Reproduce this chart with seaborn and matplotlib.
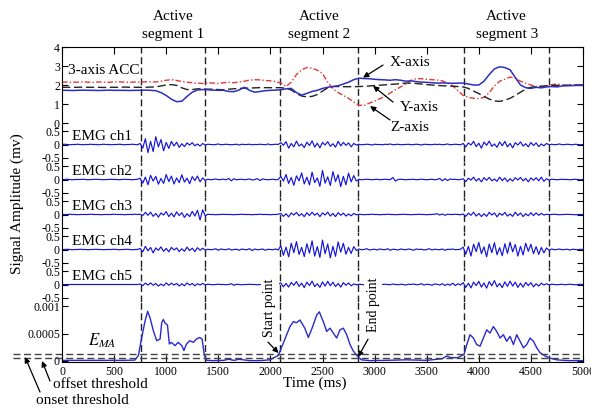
import numpy as np
import pandas as pd
import matplotlib
matplotlib.use("Agg")
import matplotlib.pyplot as plt
import matplotlib.transforms as mtransforms
import seaborn as sns

# ---------------- data ----------------
segment_bounds = [760, 1375, 2095, 2840, 3860, 4675]   # ms, dashed lines
segment_labels = ["Active\nsegment 1", "Active\nsegment 2", "Active\nsegment 3"]
acc_step = 50   # ms between ACC samples
acc_x = [1.72,1.72,1.71,1.72,1.73,1.72,1.72,1.71,1.72,1.73,1.72,1.72,1.72,1.71,1.72,1.72,1.73,1.72,1.70,
         1.60,1.45,1.25,1.12,1.15,1.40,1.62,1.74,1.76,1.75,1.73,
         1.72,1.72,1.66,1.65,1.74,1.88,1.72,1.62,1.66,1.70,
         1.72,1.73,1.75,1.80,1.82,1.60,1.47,1.56,1.66,1.72,
         1.82,1.88,1.92,1.96,2.05,2.15,2.28,2.36,2.34,2.33,
         2.30,2.28,2.27,2.25,2.28,2.25,2.20,2.22,2.18,2.15,
         2.14,2.12,2.10,2.11,2.10,2.09,2.10,2.10,2.05,2.00,
         2.00,2.20,2.55,2.85,2.96,2.92,2.80,2.40,2.00,1.86,
         1.82,1.88,1.85,1.90,1.92,1.90,1.95,1.96,1.97,1.98,
         1.98]
acc_y = [1.88,1.88,1.88,1.88,1.89,1.88,1.88,1.88,1.87,1.88,1.88,1.88,1.89,1.88,1.88,1.88,1.88,1.89,1.90,
         1.95,2.00,2.02,1.98,1.85,1.76,1.76,1.80,1.80,1.78,1.78,
         1.76,1.75,1.78,1.80,1.82,1.83,1.84,1.85,1.86,1.86,
         1.86,1.86,1.86,1.82,1.74,1.55,1.42,1.38,1.40,1.50,
         1.68,1.85,1.92,1.92,1.91,1.91,1.91,1.92,1.93,1.95,
         1.97,1.99,2.01,2.03,2.05,2.08,2.10,2.10,2.08,2.05,
         2.02,2.00,1.98,1.96,1.95,1.94,1.92,1.90,1.82,1.68,
         1.55,1.40,1.26,1.16,1.14,1.20,1.30,1.45,1.62,1.78,
         1.88,1.92,1.94,1.96,1.97,1.98,1.98,1.99,2.00,2.00,
         2.00]
acc_z = [2.15,2.16,2.14,2.15,2.17,2.15,2.14,2.16,2.15,2.14,2.16,2.17,2.15,2.14,2.16,2.15,2.17,2.16,2.16,
         2.20,2.25,2.28,2.24,2.18,2.15,2.12,2.10,2.08,2.12,2.10,
         2.08,2.12,2.14,2.12,2.16,2.20,2.26,2.28,2.27,2.24,
         2.22,2.18,2.10,1.92,2.15,2.55,2.80,2.92,2.88,2.78,
         2.60,2.15,1.80,1.60,1.45,1.30,1.10,0.94,0.92,1.05,
         1.15,1.28,1.40,1.58,1.75,1.90,2.05,2.25,2.34,2.33,
         2.30,2.28,2.26,2.22,2.10,1.95,1.70,1.45,1.35,1.30,
         1.28,1.35,1.60,1.95,2.20,2.30,2.42,2.35,2.20,2.10,
         2.00,1.92,1.90,1.95,2.02,2.05,2.00,1.98,2.00,2.00,
         2.00]

emg_step = 25   # ms between EMG samples, values in 0.01 mV
emg_ch1 = [0,1,0,-1,0,0,1,0,-1,0, 0,1,0,0,-1,0,1,0,0,-1, 0,0,1,0,-1,0,0,1,0,-1,
           4,-14,22,-31,12,-27,30,-9,19,-24,8,-15,12,-6,9,-11,3,-8,6,-2,7,-5,2,-6,4,-2,
           1,0,-1,0,2,-1,0,1,0,-1, 0,1,-2,1,0,0,1,-1,0,0, 1,0,-1,2,-1,0,1,0,
           7,-3,11,-14,4,-9,13,-6,2,-12,9,-4,14,-10,5,-13,8,-2,11,-7,3,-10,12,-5,8,-3,6,-9,4,-2,
           1,-1,0,1,0,-2,1,0,0,-1, 1,0,2,-1,0,1,-1,0,0,1, -1,0,1,0,-2,1,0,0,-1,1, 0,1,-1,0,2,-1,0,1,0,-1,
           4,-9,6,-2,12,-8,5,-14,9,-3,13,-7,2,-11,10,-5,12,-9,4,-13,7,-2,10,-6,3,-9,8,-4,6,-8,2,-5,4,-1,
           1,-1,0,2,-1,0,1,0,-1,1, 0,-1,0]
emg_ch2 = [0,0,1,0,-1,0,0,0,1,0, -1,0,0,1,0,0,-1,0,0,1, 0,0,-1,0,1,0,0,-1,0,1,
           5,-14,9,-20,16,-6,12,-18,4,-15,19,-8,13,-17,6,-12,18,-10,5,-16,11,-4,13,-9,6,-3,
           1,-1,0,2,-1,0,1,-1,4,-5,3,-1, 0,1,-1,0,2,-2,0,3,-4,2,0,-1, 0,1,-1,0,
           12,-6,19,-15,8,-22,14,-5,25,-17,9,-21,28,-12,6,-26,35,-14,10,-23,30,-8,18,-27,12,-20,24,-9,15,-6,
           1,-1,0,1,0,-1,0,1,-1,0, 1,0,-1,8,-6,0,1,0,-1,0, 0,1,-1,0,1,0,-1,0,1,-1, 0,4,-5,3,-4,2,0,1,-1,0,
           3,-8,5,-2,9,-6,4,-9,7,-3,8,-5,2,-7,9,-4,6,-8,3,-6,7,-2,8,-5,4,-9,6,-3,7,-5,9,-7,3,-2,
           1,0,-1,0,1,0,0,-1,0,1, 0,-1,0]
emg_ch3 = [0,0,0,1,0,0,-1,0,0,0, 0,1,0,0,0,-1,0,0,0,0, 1,0,0,0,-1,0,0,0,1,0,
           1,-4,8,-3,9,-7,4,-10,6,-2,11,-8,5,-9,10,-4,7,-11,3,-8,12,-6,16,-21,18,-5,
           1,0,0,-1,0,0,1,0,0,0, -1,0,0,1,0,0,0,-1,0,0, 1,0,0,0,-1,0,0,1,
           4,-7,3,-9,6,-2,8,-5,3,-8,7,-4,9,-3,5,-8,6,-2,9,-6,4,-8,7,-3,5,-6,2,-5,4,-1,
           1,0,-1,0,0,1,0,0,-1,0, 0,1,0,0,-1,0,0,1,0,0, -1,0,0,1,0,0,-1,0,0,1, 3,-2,2,-3,1,0,0,1,0,-1,
           2,-7,5,-3,9,-6,4,-8,3,-7,8,-2,6,-9,5,-3,8,-6,2,-7,9,-4,6,-8,3,-5,7,-4,6,-3,4,-2,1,0,
           0,1,0,-1,0,0,1,0,0,-1, 0,0,0]
emg_ch4 = [0,0,1,0,-1,0,0,1,0,0, -1,0,0,1,0,0,-1,0,0,0, 1,0,-1,0,0,1,0,-1,0,0,
           4,-9,12,-5,8,-13,6,-3,10,-7,4,-9,8,-2,6,-8,3,-7,9,-4,5,-8,7,-3,5,-2,
           1,-1,0,3,-3,2,0,-1,3,-2, 0,1,-3,2,0,-1,3,-4,2,-1, 0,2,-3,1,0,-1,2,-2,
           14,-22,9,-28,24,-12,30,-19,8,-27,22,-14,33,-25,11,-30,36,-16,21,-32,12,-26,29,-10,24,-18,8,-15,11,-4,
           2,-1,0,3,-2,0,1,-2,2,0, -1,3,-3,1,0,-2,2,0,-1,2, 0,-3,2,0,1,-2,0,3,-2,1, 0,-1,2,-3,1,0,2,-1,0,1,
           9,-18,12,-25,20,-8,27,-16,10,-28,21,-12,26,-20,7,-24,22,-15,28,-9,19,-25,12,-21,24,-7,20,-16,11,-19,8,-13,6,-3,
           2,-1,0,2,-1,0,1,-2,1,0, -1,1,0]
emg_ch5 = [0,0,0,0,0,0,0,0,0,0, 0,0,0,0,0,0,0,0,0,0, 0,0,0,0,0,0,0,0,0,0,
           2,-4,5,-2,6,-3,4,-6,2,-5,6,-3,5,-2,4,-6,3,-5,6,-2,4,-5,3,-2,4,-1,
           1,0,-1,0,1,0,0,-1,0,3,-3,1, 0,-1,0,0,1,0,0,-1,0,0,1,0, 0,-1,0,1,
           6,-9,4,-10,8,-3,11,-7,5,-12,9,-4,13,-8,3,-11,10,-6,12,-5,9,-8,4,-10,7,-3,6,-5,2,-1,
           1,0,-1,0,2,-1,0,1,-2,0, 1,0,-1,2,0,-1,1,0,-2,1, 0,2,-1,0,3,-2,1,0,-3,2, 1,-2,3,-4,2,-3,5,-4,3,-2,
           7,-11,5,-13,9,-4,12,-10,6,-14,11,-5,15,-9,4,-12,10,-7,13,-6,9,-11,5,-10,8,-4,7,-9,3,-6,5,-2,3,-1,
           1,0,-1,0,1,-1,0,1,0,-1, 0,1,0]
emg_channels = [emg_ch1, emg_ch2, emg_ch3, emg_ch4, emg_ch5]
emg_names = ["EMG ch1", "EMG ch2", "EMG ch3", "EMG ch4", "EMG ch5"]

# E_MA envelope: (time ms, value in 1e-4)
ema_points = [(0,0.1),(200,0.1),(400,0.1),(600,0.1),(700,0.15),(733,1.0),(765,4.3),(797,7.3),(822,9.1),
    (845,7.9),(877,5.5),(909,3.7),(941,4.0),(957,7.0),(973,7.6),(990,6.9),(1012,6.6),(1030,3.1),(1050,3.4),
    (1085,2.8),(1115,3.4),(1150,2.8),(1170,1.9),(1195,3.1),(1225,3.7),(1260,3.4),(1290,4.0),(1320,4.3),
    (1345,4.0),(1366,1.0),(1390,0.1),(1450,0.05),(1550,0.1),(1600,0.3),(1650,0.1),(1700,0.3),(1800,0.05),
    (1900,0.05),(2000,0.2),(2025,0.5),(2076,1.0),(2108,2.5),(2156,4.8),(2188,6.3),(2220,7.2),(2250,7.0),
    (2284,7.5),(2330,6.0),(2364,4.3),(2400,6.0),(2444,8.4),(2470,9.0),(2490,8.0),(2508,7.2),(2540,5.4),
    (2572,6.0),(2604,5.1),(2636,4.2),(2668,5.7),(2700,6.0),(2732,4.8),(2764,3.0),(2796,1.8),(2834,0.9),
    (2873,0.2),(2950,0.05),(3100,0.1),(3300,0.2),(3500,0.1),(3650,0.4),(3692,0.9),(3730,0.6),(3800,0.6),
    (3858,1.2),(3885,3.0),(3916,4.8),(3948,4.2),(3980,3.0),(4012,2.7),(4044,4.2),(4076,5.7),(4108,5.1),
    (4140,6.3),(4172,5.4),(4204,4.2),(4236,4.8),(4268,3.6),(4300,4.5),(4332,3.0),(4364,4.8),(4396,3.6),
    (4428,2.4),(4460,3.0),(4492,4.2),(4524,3.6),(4556,2.4),(4588,1.5),(4636,0.9),(4684,0.5),(4748,0.2),
    (4850,0.05),(5000,0.05)]
onset_threshold = 0.00012
offset_threshold = 0.00006
x_ticks = [0, 500, 1000, 1500, 2000, 2500, 3000, 3500, 4000, 4500, 5000]

# ---------------- style ----------------
sns.set_theme(style="ticks")
plt.rcParams["font.family"] = ["Liberation Serif", "DejaVu Serif"]
plt.rcParams["mathtext.fontset"] = "stix"
plt.rcParams["axes.unicode_minus"] = False
plt.rcParams["text.color"] = "black"
plt.rcParams["axes.edgecolor"] = "black"
plt.rcParams["xtick.color"] = "black"
plt.rcParams["ytick.color"] = "black"

W, H = 591, 409
fig = plt.figure(figsize=(W / 100, H / 100), dpi=100)
fig.patch.set_facecolor("white")
gs = fig.add_gridspec(7, 1, left=62 / W, right=583 / W, top=1 - 47 / H, bottom=1 - 362 / H,
                      hspace=0, height_ratios=[80, 35, 35, 35, 35, 35, 60])
axes = [fig.add_subplot(gs[i]) for i in range(7)]

EMG_BLUE = "#1414d8"
DASH = (0, (5, 2.6))

for i, ax in enumerate(axes):
    ax.patch.set_visible(False)
    ax.set_xlim(0, 5000)
    ax.set_xticks(x_ticks)
    for s in ["left", "right"]:
        ax.spines[s].set_visible(True)
        ax.spines[s].set_linewidth(0.8)
    ax.spines["top"].set_visible(i == 0)
    ax.spines["bottom"].set_visible(i == 6)
    ax.spines["top"].set_linewidth(0.8)
    ax.spines["bottom"].set_linewidth(0.8)
    ax.tick_params(axis="x", direction="in", length=5, width=0.8, top=(i == 0), bottom=(i == 6),
                   labelbottom=(i == 6), labeltop=False, labelsize=8.5, pad=3)
    ax.tick_params(axis="y", direction="in", length=4, width=0.8, left=True, right=True,
                   labelsize=8.5, pad=1.5)
    ax.set_xlabel("")
    ax.set_ylabel("")
    for b in segment_bounds:
        ax.axvline(b, color="#222222", lw=1.0, linestyle=DASH, zorder=1)

# ACC panel
ax0 = axes[0]
t_acc = np.arange(len(acc_x)) * acc_step
df_acc = pd.DataFrame({"t": t_acc, "X": acc_x, "Y": acc_y, "Z": acc_z})
sns.lineplot(data=df_acc, x="t", y="Z", ax=ax0, color="#e03a3a", lw=1.0, linestyle=(0, (4, 1.6, 1, 1.6)),
             legend=False)
sns.lineplot(data=df_acc, x="t", y="Y", ax=ax0, color="#222222", lw=1.0, linestyle=(0, (6, 2.6)),
             legend=False)
sns.lineplot(data=df_acc, x="t", y="X", ax=ax0, color="#2e2ebd", lw=1.1, legend=False)
ax0.set_ylim(-0.21, 4)
ax0.set_yticks([0, 1, 2, 3, 4])
ax0.set_yticklabels(["0", "1", "2", "3", "4"])
ax0.set_xlabel("")
ax0.set_ylabel("")
ax0.text(60, 2.75, "3-axis ACC", fontsize=11, va="center", ha="left")
blend = mtransforms.blended_transform_factory(ax0.transData, ax0.transAxes)
for k, lab in enumerate(segment_labels):
    mid = (segment_bounds[2 * k] + segment_bounds[2 * k + 1]) / 2
    ax0.text(mid, 1.07, lab, transform=blend, ha="center", va="bottom", fontsize=11,
             linespacing=1.55)

arrow_kw = dict(arrowstyle="-|>", color="black", lw=0.9, mutation_scale=8, shrinkA=0, shrinkB=0)
ax0.annotate("", xy=(2889, 2.39), xytext=(3081, 3.05), arrowprops=arrow_kw, annotation_clip=False)
ax0.annotate("", xy=(2985, 1.95), xytext=(3177, 1.10), arrowprops=arrow_kw, annotation_clip=False)
ax0.annotate("", xy=(2956, 0.89), xytext=(3148, 0.16), arrowprops=arrow_kw, annotation_clip=False)
ax0.text(3148, 3.21, "X-axis", fontsize=11, ha="left", va="center")
ax0.text(3244, 0.79, "Y-axis", fontsize=11, ha="left", va="center")
ax0.text(3148, -0.26, "Z-axis", fontsize=11, ha="left", va="center")

# EMG panels
for k in range(5):
    ax = axes[k + 1]
    vals = np.array(emg_channels[k]) * 0.01
    t_emg = np.arange(len(vals)) * emg_step
    sns.lineplot(x=t_emg, y=vals, ax=ax, color=EMG_BLUE, lw=0.85, estimator=None, sort=False)
    ax.set_ylim(-0.67, 0.67)
    ax.set_yticks([-0.5, 0, 0.5])
    ax.set_yticklabels(["-0.5", "0", "0.5"])
    ax.set_xlabel("")
    ax.set_ylabel("")
    ax.text(95, 0.3, emg_names[k], fontsize=11, ha="left", va="center")

# EMA panel
ax6 = axes[6]
ema_t = [p[0] for p in ema_points]
ema_v = [p[1] * 1e-4 for p in ema_points]
sns.lineplot(x=ema_t, y=ema_v, ax=ax6, color="#2a2acc", lw=1.0, estimator=None, sort=False)
ax6.set_ylim(-0.00002, 0.00108)
ax6.set_yticks([0, 0.0005, 0.001])
ax6.set_yticklabels(["0", "0.0005", "0.001"])
ax6.set_xticklabels([str(v) for v in x_ticks])
ax6.set_xlabel("")
ax6.set_ylabel("")
for th in (onset_threshold, offset_threshold):
    ax6.axhline(th, xmin=-0.094, xmax=1.0, color="#444444", lw=1.0, linestyle=DASH, clip_on=False)
ax6.text(384, 0.00036, r"$E_{MA}$", fontsize=12, ha="center", va="center")
ax6.text(1996, 0.000976, "Start point", rotation=90, fontsize=10, ha="center", va="center",
         bbox=dict(fc="white", ec="none", pad=1.5), zorder=5)
ax6.text(2985, 0.00103, "End point", rotation=90, fontsize=10, ha="center", va="center",
         bbox=dict(fc="white", ec="none", pad=1.5), zorder=5)
ax6.annotate("", xy=(2078, 0.000145), xytext=(1977, 0.000344), arrowprops=arrow_kw, annotation_clip=False)
ax6.annotate("", xy=(2841, 0.00007), xytext=(2937, 0.000398), arrowprops=arrow_kw, annotation_clip=False)

# threshold labels (figure pixel coordinates)
fig.text(53 / W, 1 - 385 / H, "offset threshold", fontsize=11, ha="left", va="center")
fig.text(36 / W, 1 - 400 / H, "onset threshold", fontsize=11, ha="left", va="center")
ax6.annotate("", xy=(42, H - 361), xycoords="figure pixels", xytext=(50, H - 381),
             textcoords="figure pixels", arrowprops=arrow_kw, annotation_clip=False)
ax6.annotate("", xy=(25, H - 357), xycoords="figure pixels", xytext=(40, H - 392),
             textcoords="figure pixels", arrowprops=arrow_kw, annotation_clip=False)

fig.text(17 / W, 1 - 204 / H, "Signal Amplitude (mv)", rotation=90, fontsize=11, ha="center", va="center")
fig.text(315 / W, 1 - 383 / H, "Time (ms)", fontsize=11, ha="center", va="center")

fig.savefig("out.png", dpi=100, facecolor="white")
